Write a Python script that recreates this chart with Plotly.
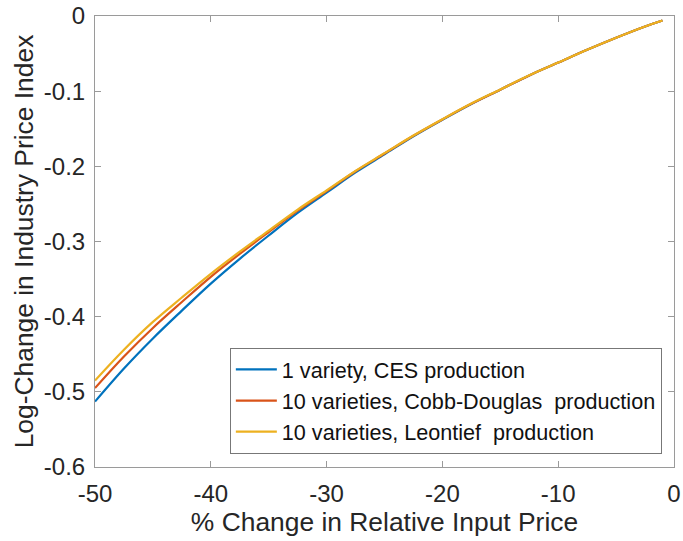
import plotly.graph_objects as go

x_pct = [-50, -47.5, -45, -42.5, -40, -37.5, -35, -32.5, -30, -27.5, -25,
         -22.5, -20, -17.5, -15, -12.5, -10, -7.5, -5, -2.5, -1]
ces_1 = [-0.513, -0.469, -0.429, -0.392, -0.356, -0.323, -0.292, -0.262, -0.235, -0.208, -0.184,
         -0.160, -0.138, -0.117, -0.098, -0.079, -0.062, -0.045, -0.029, -0.014, -0.006]
cobb_10 = [-0.495, -0.453, -0.415, -0.3805, -0.347, -0.3165, -0.2875, -0.259, -0.233, -0.2065, -0.183,
           -0.1593, -0.1376, -0.1168, -0.098, -0.079, -0.062, -0.045, -0.029, -0.014, -0.006]
leon_10 = [-0.485, -0.444, -0.407, -0.3745, -0.343, -0.3135, -0.2855, -0.2575, -0.232, -0.206, -0.1825,
           -0.159, -0.1373, -0.1165, -0.0977, -0.0789, -0.062, -0.045, -0.029, -0.014, -0.006]

names = ["1 variety, CES production",
         "10 varieties, Cobb-Douglas\u00a0 production",
         "10 varieties, Leontief\u00a0 production"]
colors = ["#0072BD", "#D95319", "#EDB120"]

x_ticks = [-50, -40, -30, -20, -10, 0]
x_ticktext = ["-50", "-40", "-30", "-20", "-10", "0"]
y_ticks = [-0.6, -0.5, -0.4, -0.3, -0.2, -0.1, 0]
y_ticktext = ["-0.6", "-0.5", "-0.4", "-0.3", "-0.2", "-0.1", "0"]

font_family = "Liberation Sans, Arial, Helvetica, sans-serif"

fig = go.Figure()
for ys, nm, c in zip([ces_1, cobb_10, leon_10], names, colors):
    fig.add_trace(go.Scatter(x=x_pct, y=ys, mode="lines", name=nm,
                             line=dict(color=c, width=2.2, shape="spline")))

axis_common = dict(showline=True, mirror="ticks", linecolor="#9a9a9a", linewidth=1,
                   ticks="inside", ticklen=6, tickcolor="#9a9a9a", tickwidth=1,
                   showgrid=False, zeroline=False, automargin=False,
                   ticklabeloverflow="allow",
                   tickfont=dict(size=24, color="#262626", family=font_family))

fig.update_layout(
    width=683, height=541,
    margin=dict(l=95, r=9, t=16, b=74),
    plot_bgcolor="white", paper_bgcolor="white",
    font=dict(family=font_family, color="#262626"),
    xaxis=dict(range=[-50, 0], tickvals=x_ticks, ticktext=x_ticktext,
               ticklabelstandoff=5,
               title=dict(text="% Change in Relative Input Price",
                          font=dict(size=26.4, color="#262626"), standoff=0),
               **axis_common),
    yaxis=dict(range=[-0.6, 0], tickvals=y_ticks, ticktext=y_ticktext,
               ticklabelstandoff=4,
               title=dict(text="Log-Change in Industry Price Index",
                          font=dict(size=26.4, color="#262626"), standoff=2),
               **axis_common),
    legend=dict(x=0.979, y=0.029, xanchor="right", yanchor="bottom",
                bgcolor="white", bordercolor="#777777", borderwidth=1,
                font=dict(size=21.6, color="#111111"),
                tracegroupgap=0, itemwidth=41),
    showlegend=True,
)

fig.write_html("out.html", config={"displayModeBar": False},
               post_script="document.body.style.margin='0px';")
